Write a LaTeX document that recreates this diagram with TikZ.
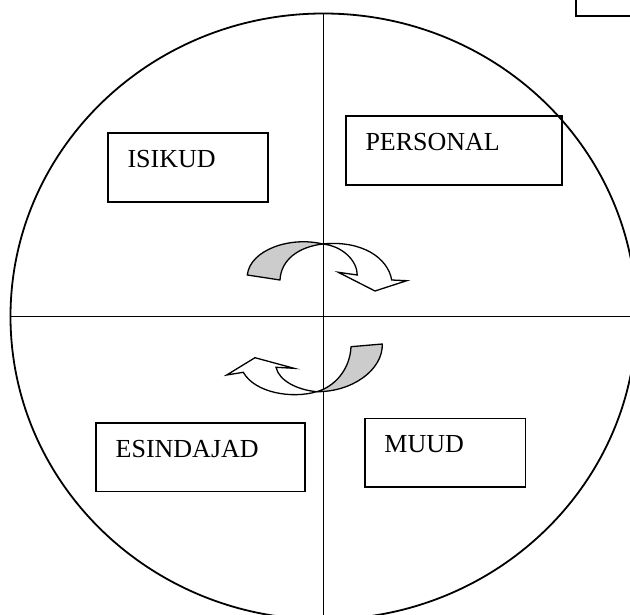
\documentclass[tikz,border=0pt]{standalone}
\usepackage{fontspec}
\setmainfont{Liberation Serif}
\usetikzlibrary{shapes.geometric,calc}
\definecolor{BandGrey}{RGB}{204,204,204}
\tikzset{
  boxshape/.style={draw,line width=1.9pt,anchor=north west,inner sep=0pt,minimum height=68.5pt},
  boxtext/.style={anchor=base west,inner sep=0pt,font=\fontsize{26}{30}\selectfont},
  twistback/.style={draw,fill=BandGrey,line width=1.3pt,line join=round},
  twistfront/.style={draw,fill=white,line width=1.3pt,line join=miter},
}
\newcommand{\quadbox}[4]{%
  \node[boxshape,minimum width=#3] (#1) at (#2) {};
  \node[boxtext] (#1text) at ([shift={(20.5,35)}]#1.north west) {#4};}

\begin{document}
\begin{tikzpicture}[x=1pt,y=-1pt]
  \useasboundingbox (0,0) rectangle (630,615);
  \node[ellipse,draw,line width=1.8pt,inner sep=0pt,minimum width=626pt,minimum height=606pt] (wheel) at (323.5,316.5) {};
  \draw[line width=1.6pt] (wheel.north) -- (wheel.south);
  \draw[line width=1.6pt] (wheel.west) -- (wheel.east);
  \node[draw,line width=1.9pt,anchor=south west,inner sep=0pt,minimum width=80pt,minimum height=40pt] (corner) at (575,16.7) {};
  \quadbox{isikud}{106.8,132.5}{160.2pt}{ISIKUD}
  \quadbox{personal}{344.8,115.2}{216.3pt}{PERSONAL}
  \quadbox{esindajad}{95,422}{209pt}{ESINDAJAD}
  \quadbox{muud}{363.7,417.5}{160.8pt}{MUUD}
  % upper twist arrow
  \coordinate (uptwist) at (322.7,244);
  \draw[twistback] (247.3,275) .. controls (250,250) and (290,236) .. (uptwist)
    .. controls (298,247) and (281,260) .. (280,280) -- cycle;
  \draw[twistfront] (uptwist) .. controls (342,246) and (357,260) .. (357.3,275)
    -- (338.3,272.3) -- (375,291) -- (406.7,280.7) -- (391.7,280)
    .. controls (388,258) and (362,240) .. (uptwist) -- cycle;
  % lower twist arrow
  \coordinate (lowtwist) at (316.7,391.7);
  \draw[twistback] (382.3,344) .. controls (383,370) and (352,392) .. (lowtwist)
    .. controls (334,387) and (350,370) .. (351,346.7) -- cycle;
  \draw[twistfront] (lowtwist) .. controls (298,390) and (279,381) .. (276,367.3)
    -- (294,368.3) -- (255,357.7) -- (226.7,375) -- (243.3,372.3)
    .. controls (255,393) and (292,399) .. (lowtwist) -- cycle;
\end{tikzpicture}
\end{document}
